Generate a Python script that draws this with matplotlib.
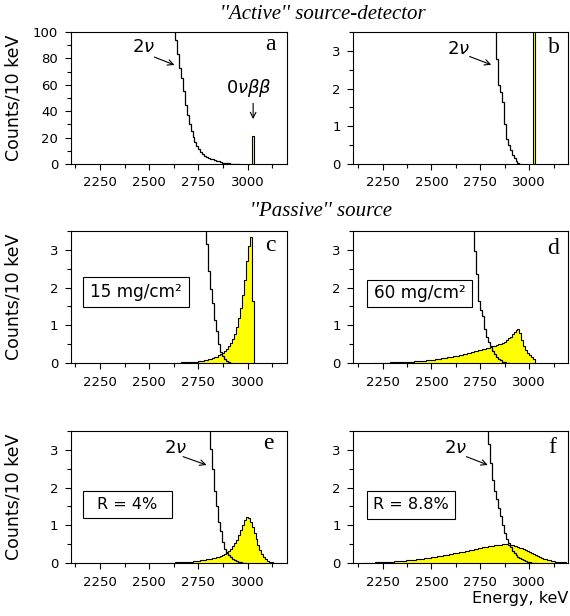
import numpy as np
import matplotlib
matplotlib.use("Agg")
import matplotlib.pyplot as plt
from matplotlib.patches import Rectangle
from matplotlib.ticker import MultipleLocator

bin_width = 10  # keV per bin

# ''Active'' source-detector, panels a and b
act_2nu_start = 2600
act_2nu = [125, 115, 104, 94, 83, 73, 65, 55, 45, 37, 30, 25, 20.5, 17, 13.5,
           11, 9.2, 7.6, 6.3, 5.2, 4.5, 4.0, 3.6, 2.78, 2.1, 1.92, 1.65, 1.05,
           0.65, 0.5, 0.38, 0.25, 0.17, 0.08, 0.03, 0]
act_0nu_start = 3020
act_0nu = [21]

# ''Passive'' source, 15 mg/cm2 (c)
c_2nu_start = 2770
c_2nu = [4.4, 3.9, 3.15, 2.45, 1.95, 1.6, 1.15, 0.85, 0.5, 0.3, 0.18, 0.1,
         0.05, 0.02, 0]
c_0nu_start = 2640
c_0nu = [0.01, 0.01, 0.015, 0.015, 0.02, 0.02, 0.025, 0.03, 0.03, 0.035, 0.04,
         0.045, 0.05, 0.06, 0.07, 0.08, 0.1, 0.11, 0.13, 0.15, 0.17, 0.2, 0.23,
         0.27, 0.32, 0.38, 0.45, 0.53, 0.64, 0.78, 0.96, 1.2, 1.45, 1.8, 2.2,
         2.7, 3.1, 3.35, 1.65]

# ''Passive'' source, 60 mg/cm2 (d)
d_2nu_start = 2700
d_2nu = [4.8, 4.2, 2.98, 2.35, 1.65, 1.4, 1.25, 0.9, 0.7, 0.55, 0.45, 0.32,
         0.23, 0.16, 0.11, 0.07, 0.04, 0.02, 0.01, 0]
d_0nu_start = 2200
d_0nu = [0.005, 0.006, 0.007, 0.008, 0.009, 0.01, 0.011, 0.012, 0.013, 0.015,
         0.016, 0.018, 0.02, 0.022, 0.024, 0.026, 0.028, 0.031, 0.034, 0.037,
         0.04, 0.043, 0.047, 0.051, 0.055, 0.059, 0.064, 0.069, 0.074, 0.08,
         0.086, 0.092, 0.099, 0.106, 0.113, 0.121, 0.129, 0.138, 0.147, 0.157,
         0.167, 0.177, 0.188, 0.199, 0.21, 0.222, 0.234, 0.246, 0.258, 0.27,
         0.283, 0.296, 0.309, 0.322, 0.336, 0.35, 0.364, 0.378, 0.393, 0.408,
         0.424, 0.44, 0.457, 0.475, 0.494, 0.514, 0.536, 0.56, 0.6, 0.65,
         0.7, 0.76, 0.82, 0.88, 0.9, 0.8, 0.62, 0.46, 0.35, 0.27, 0.2, 0.15,
         0.1]

# energy resolution R = 4% (e)
e_2nu_start = 2790
e_2nu = [4.5, 3.9, 3.02, 2.5, 1.92, 1.5, 1.1, 0.85, 0.55, 0.38, 0.27, 0.2,
         0.15, 0.11, 0.08, 0.05, 0.03, 0.02, 0.01, 0]
e_0nu_start = 2600
e_0nu = [0.01, 0.01, 0.01, 0.015, 0.015, 0.02, 0.02, 0.025, 0.03, 0.03, 0.035,
         0.04, 0.045, 0.05, 0.055, 0.06, 0.07, 0.075, 0.085, 0.095, 0.1, 0.11,
         0.12, 0.13, 0.15, 0.17, 0.19, 0.22, 0.25, 0.28, 0.32, 0.37, 0.44,
         0.52, 0.62, 0.74, 0.88, 1.02, 1.15, 1.22, 1.2, 1.1, 0.96, 0.8, 0.64,
         0.48, 0.35, 0.24, 0.16, 0.1, 0.06, 0.035, 0.02, 0.01, 0.005]

# energy resolution R = 8.8% (f)
f_2nu_start = 2770
f_2nu = [4.6, 4.0, 3.15, 2.65, 2.2, 1.9, 1.7, 1.45, 1.25, 1.0, 0.8, 0.65,
         0.52, 0.42, 0.33, 0.27, 0.22, 0.17, 0.13, 0.1, 0.08, 0.05, 0.03,
         0.02, 0.01, 0.005, 0]
f_0nu_start = 2150
f_0nu = [0.006, 0.007, 0.008, 0.009, 0.01, 0.012, 0.014, 0.016, 0.018, 0.02,
         0.022, 0.025, 0.028, 0.031, 0.034, 0.037, 0.041, 0.045, 0.049, 0.053,
         0.057, 0.062, 0.067, 0.072, 0.077, 0.083, 0.089, 0.095, 0.101, 0.108,
         0.115, 0.122, 0.129, 0.137, 0.145, 0.153, 0.161, 0.17, 0.178, 0.187,
         0.196, 0.205, 0.214, 0.224, 0.233, 0.243, 0.253, 0.263, 0.273, 0.283,
         0.293, 0.304, 0.314, 0.325, 0.335, 0.346, 0.357, 0.368, 0.379, 0.39,
         0.401, 0.412, 0.423, 0.433, 0.443, 0.453, 0.462, 0.47, 0.477, 0.483,
         0.488, 0.492, 0.494, 0.493, 0.49, 0.484, 0.475, 0.463, 0.448, 0.43,
         0.41, 0.388, 0.364, 0.338, 0.311, 0.283, 0.255, 0.228, 0.202, 0.178,
         0.155, 0.134, 0.115, 0.098, 0.083, 0.07, 0.058, 0.048, 0.04, 0.033,
         0.027, 0.022, 0.018, 0.014, 0.011]

panel_letters = ["a", "b", "c", "d", "e", "f"]
box_labels = [None, None, "15 mg/cm²", "60 mg/cm²", "R = 4%", "R = 8.8%"]


def edges(start, values):
    return start + bin_width * np.arange(len(values) + 1)


def setup(ax, ymax):
    ax.set_xlim(2100, 3200)
    ax.set_ylim(0, ymax)
    ax.xaxis.set_major_locator(MultipleLocator(250))
    ax.xaxis.set_minor_locator(MultipleLocator(125))
    if ymax > 10:
        ax.yaxis.set_major_locator(MultipleLocator(20))
        ax.yaxis.set_minor_locator(MultipleLocator(10))
    else:
        ax.yaxis.set_major_locator(MultipleLocator(1))
        ax.yaxis.set_minor_locator(MultipleLocator(0.5))
    ax.tick_params(which="both", direction="out", top=False, right=False,
                   width=0.8, labelsize=9.5)
    ax.tick_params(which="major", length=4, pad=5)
    ax.tick_params(which="minor", length=3)
    for s in ax.spines.values():
        s.set_linewidth(0.8)


def draw(ax, s0, sig, b0, bkg):
    e = edges(s0, sig)
    ax.stairs(sig, e, baseline=0, fill=True, color="#ffff00", lw=0)
    ax.stairs(sig, e, baseline=0, color="black", lw=0.8)
    ax.stairs(bkg, edges(b0, bkg), baseline=None, color="black", lw=0.9)


plt.rcParams["font.family"] = "DejaVu Sans"

fig = plt.figure(figsize=(5.7, 6.16), dpi=100)
lefts = [0.1237, 0.6198]
widths = [0.3798, 0.3772]
bottoms = [0.7338, 0.4107, 0.0860]
h = 0.2143

axes = []
for r in range(3):
    for c in range(2):
        axes.append(fig.add_axes([lefts[c], bottoms[r], widths[c], h]))

ax_a, ax_b, ax_c, ax_d, ax_e, ax_f = axes

setup(ax_a, 100)
for ax in axes[1:]:
    setup(ax, 3.5)

draw(ax_a, act_0nu_start, act_0nu, act_2nu_start, act_2nu)
draw(ax_b, act_0nu_start, act_0nu, act_2nu_start, act_2nu)
draw(ax_c, c_0nu_start, c_0nu, c_2nu_start, c_2nu)
draw(ax_d, d_0nu_start, d_0nu, d_2nu_start, d_2nu)
draw(ax_e, e_0nu_start, e_0nu, e_2nu_start, e_2nu)
draw(ax_f, f_0nu_start, f_0nu, f_2nu_start, f_2nu)

for ax in [ax_a, ax_c, ax_e]:
    ax.set_ylabel("Counts/10 keV", fontsize=12.5)
    ax.yaxis.set_label_coords(-0.224, 0.5)

# panel letters
letter_pos = [(0.921, 0.862), (0.934, 0.841), (0.921, 0.848),
              (0.93, 0.822), (0.912, 0.862), (0.925, 0.83)]
for ax, letter, (lx, ly) in zip(axes, panel_letters, letter_pos):
    ax.text(lx, ly, letter, transform=ax.transAxes, ha="center",
            va="baseline", fontsize=17, family="Liberation Serif")

# boxed labels
box_pos = [None, None, (0.059, 0.427, 0.49, 0.227), (0.065, 0.427, 0.486, 0.202),
           (0.059, 0.339, 0.408, 0.207), (0.062, 0.336, 0.411, 0.209)]
box_size = [None, None, 12.2, 12.2, 11.5, 11.5]
for ax, lab, bp, fs in zip(axes, box_labels, box_pos, box_size):
    if lab is None:
        continue
    x0, y0, bw, bh = bp
    ax.add_patch(Rectangle((x0, y0), bw, bh, transform=ax.transAxes,
                           fc="white", ec="black", lw=0.8, zorder=5))
    ax.text(x0 + bw / 2, y0 + bh / 2, lab, transform=ax.transAxes,
            ha="center", va="center", fontsize=fs, zorder=6)

# 2nu arrows
arr = dict(arrowstyle="->", color="black", lw=0.8, shrinkA=0, shrinkB=0)
ax_a.annotate("", xy=(2628, 75), xytext=(2526, 81), arrowprops=arr)
ax_a.text(2472, 88.3, r"$2\nu$", ha="center", va="center", fontsize=13)
ax_a.annotate("", xy=(3028, 34), xytext=(3028, 46), arrowprops=arr)
ax_a.text(3008, 57.3, r"$0\nu\beta\beta$", ha="center", va="center",
          fontsize=13)
for ax, tx, ty, x1, y1, x2, y2 in [(ax_b, 2640, 3.04, 2695, 2.85, 2806, 2.63),
                                   (ax_e, 2633, 3.04, 2672, 2.82, 2791, 2.6),
                                   (ax_f, 2623, 3.04, 2679, 2.82, 2788, 2.6)]:
    ax.annotate("", xy=(x2, y2), xytext=(x1, y1), arrowprops=arr)
    ax.text(tx, ty, r"$2\nu$", ha="center", va="center", fontsize=13)

fig.text(0.567, 0.977, "''Active'' source-detector", ha="center",
         va="center", fontsize=15, style="italic", family="Liberation Serif")
fig.text(0.563, 0.656, "''Passive'' source", ha="center", va="center",
         fontsize=15, style="italic", family="Liberation Serif")
fig.text(0.997, 1 - 599 / 616, "Energy, keV", ha="right", va="center",
         fontsize=11.5)

fig.savefig("out.png", dpi=100)
